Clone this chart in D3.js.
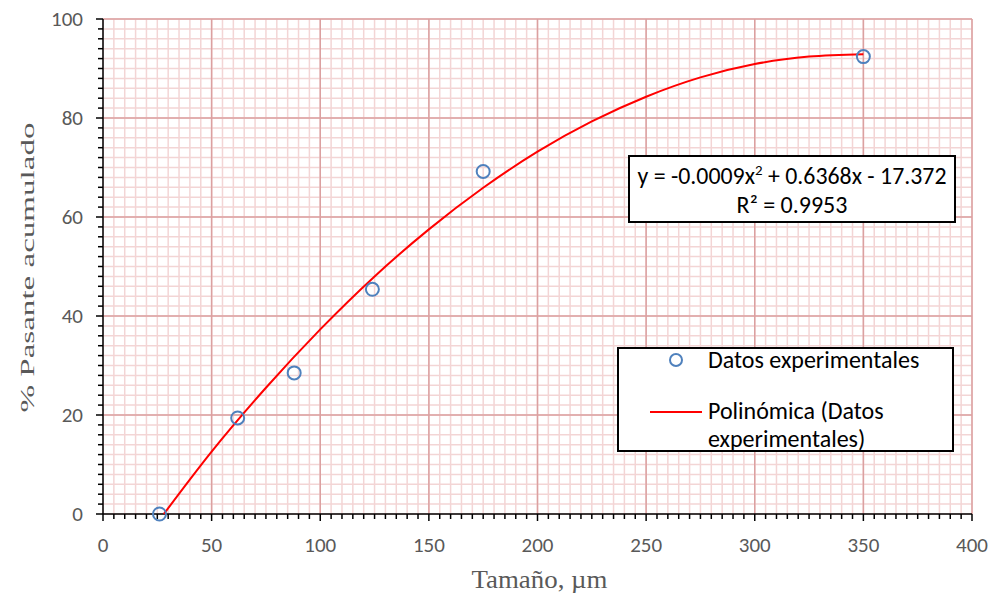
<!DOCTYPE html>
<html>
<head>
<meta charset="utf-8">
<script src="https://cdn.jsdelivr.net/npm/d3@7"></script>
<style>
  body { margin: 0; background: #fff; }
  svg { display: block; }
</style>
</head>
<body>
<svg id="chart" width="994" height="598"></svg>
<script>
// ── Datos ──
const sizes   = [26, 62, 88, 124, 175, 350];
const passing = [0, 19.4, 28.5, 45.4, 69.2, 92.4];

// curva de tendencia
const trendX = [28, 50, 75, 100, 125, 150, 175, 200, 225, 250, 275, 300, 325, 350];
const trendY = [0, 12.6, 25.5, 37.3, 48.0, 57.5, 65.9, 73.2, 79.3, 84.3, 88.2, 90.9, 92.4, 92.9];

const xTicks = [0, 50, 100, 150, 200, 250, 300, 350, 400];
const yTicks = [0, 20, 40, 60, 80, 100];

const eqLine1 = "y = -0.0009x";
const eqLine1b = " + 0.6368x - 17.372";
const eqLine2 = "R² = 0.9953";

const W = 994, H = 598;
const m = { left: 103, right: 22, top: 19, bottom: 84 };

const svg = d3.select("#chart");
const x = d3.scaleLinear().domain([0, 400]).range([m.left, W - m.right]);
const y = d3.scaleLinear().domain([0, 100]).range([H - m.bottom, m.top]);

const SANS = "Calibri, Carlito, Lato, 'Liberation Sans', sans-serif";
const SERIF = "'Times New Roman', 'Liberation Serif', serif";

// ── Rejilla menor ──
const g = svg.append("g");
g.append("g").selectAll("line")
  .data(d3.range(0, 401, 5)).join("line")
  .attr("x1", d => x(d)).attr("x2", d => x(d))
  .attr("y1", y(0)).attr("y2", y(100))
  .attr("stroke", "#f3d5d5").attr("stroke-width", 1.5);
g.append("g").selectAll("line")
  .data(d3.range(0, 101, 2)).join("line")
  .attr("x1", x(0)).attr("x2", x(400))
  .attr("y1", d => y(d)).attr("y2", d => y(d))
  .attr("stroke", "#f3d5d5").attr("stroke-width", 1.5);

// ── Rejilla mayor ──
g.append("g").selectAll("line")
  .data(xTicks.slice(1)).join("line")
  .attr("x1", d => x(d)).attr("x2", d => x(d))
  .attr("y1", y(0)).attr("y2", y(100))
  .attr("stroke", "#dba0a0").attr("stroke-width", 1.5);
g.append("g").selectAll("line")
  .data(yTicks.slice(1)).join("line")
  .attr("x1", x(0)).attr("x2", x(400))
  .attr("y1", d => y(d)).attr("y2", d => y(d))
  .attr("stroke", "#dba0a0").attr("stroke-width", 1.5);

// ── Ejes ──
const xAxis = svg.append("g").attr("transform", `translate(0,${y(0)})`);
xAxis.append("line").attr("x1", x(0)).attr("x2", x(400))
  .attr("stroke", "#000").attr("stroke-width", 1.5);
xAxis.selectAll("line.minor").data(d3.range(0, 401, 5)).join("line")
  .attr("class", "minor")
  .attr("x1", d => x(d)).attr("x2", d => x(d))
  .attr("y1", 0).attr("y2", d => d % 50 === 0 ? 7 : 5)
  .attr("stroke", "#000").attr("stroke-width", 1.5);
xAxis.selectAll("text").data(xTicks).join("text")
  .attr("x", d => x(d)).attr("y", 38)
  .attr("text-anchor", "middle")
  .attr("font-family", SANS).attr("font-size", 21).attr("fill", "#595959")
  .text(d => d);

const yAxis = svg.append("g").attr("transform", `translate(${x(0)},0)`);
yAxis.append("line").attr("y1", y(0)).attr("y2", y(100))
  .attr("stroke", "#000").attr("stroke-width", 1.5);
yAxis.selectAll("line.minor").data(d3.range(0, 101, 2)).join("line")
  .attr("class", "minor")
  .attr("y1", d => y(d)).attr("y2", d => y(d))
  .attr("x1", d => d % 20 === 0 ? -7 : -5).attr("x2", 0)
  .attr("stroke", "#000").attr("stroke-width", 1.5);
yAxis.selectAll("text").data(yTicks).join("text")
  .attr("x", -20).attr("y", d => y(d) + 7)
  .attr("text-anchor", "end")
  .attr("font-family", SANS).attr("font-size", 21).attr("fill", "#595959")
  .text(d => d);

// ── Títulos ──
svg.append("text")
  .attr("x", (x(0) + x(400)) / 2 + 2).attr("y", 588)
  .attr("text-anchor", "middle")
  .attr("font-family", SERIF).attr("font-size", 26).attr("fill", "#595959")
  .attr("textLength", 136).attr("lengthAdjust", "spacingAndGlyphs")
  .text("Tamaño, µm");
svg.append("text")
  .attr("transform", `translate(34,${(y(0) + y(100)) / 2 + 1}) rotate(-90)`)
  .attr("text-anchor", "middle")
  .attr("font-family", SERIF).attr("font-size", 18).attr("fill", "#595959")
  .attr("textLength", 290).attr("lengthAdjust", "spacingAndGlyphs")
  .text("% Pasante acumulado");

// ── Curva de tendencia ──
const line = d3.line()
  .x((d, i) => x(trendX[i]))
  .y(d => y(d))
  .curve(d3.curveMonotoneX);
svg.append("path")
  .attr("d", line(trendY))
  .attr("fill", "none").attr("stroke", "#ff0000").attr("stroke-width", 2);

// ── Puntos ──
svg.append("g").selectAll("circle")
  .data(sizes).join("circle")
  .attr("cx", d => x(d)).attr("cy", (d, i) => y(passing[i]))
  .attr("r", 6.5)
  .attr("fill", "none").attr("stroke", "#4f81bd").attr("stroke-width", 2);

// ── Cuadro de ecuación ──
const eq = svg.append("g");
eq.append("rect").attr("x", 629).attr("y", 156).attr("width", 326).attr("height", 66)
  .attr("fill", "#fff").attr("stroke", "#000").attr("stroke-width", 2);
const t1 = eq.append("text").attr("x", 792).attr("y", 184)
  .attr("text-anchor", "middle")
  .attr("font-family", SANS).attr("font-size", 24).attr("fill", "#000")
  .attr("textLength", 309).attr("lengthAdjust", "spacingAndGlyphs");
t1.append("tspan").text(eqLine1);
t1.append("tspan").attr("dy", -9).attr("font-size", 15).text("2");
t1.append("tspan").attr("dy", 9).text(eqLine1b);
eq.append("text").attr("x", 792).attr("y", 213)
  .attr("text-anchor", "middle")
  .attr("font-family", SANS).attr("font-size", 24).attr("fill", "#000")
  .text(eqLine2);

// ── Leyenda ──
const lg = svg.append("g");
lg.append("rect").attr("x", 618).attr("y", 348).attr("width", 335).attr("height", 103)
  .attr("fill", "#fff").attr("stroke", "#000").attr("stroke-width", 2);
lg.append("circle").attr("cx", 676).attr("cy", 360).attr("r", 6)
  .attr("fill", "none").attr("stroke", "#4f81bd").attr("stroke-width", 2);
lg.append("text").attr("x", 708).attr("y", 368)
  .attr("font-family", SANS).attr("font-size", 24).attr("fill", "#000")
  .text("Datos experimentales");
lg.append("line").attr("x1", 650).attr("x2", 702).attr("y1", 412).attr("y2", 412)
  .attr("stroke", "#ff0000").attr("stroke-width", 2);
lg.append("text").attr("x", 708).attr("y", 419)
  .attr("font-family", SANS).attr("font-size", 24).attr("fill", "#000")
  .text("Polinómica (Datos");
lg.append("text").attr("x", 708).attr("y", 447)
  .attr("font-family", SANS).attr("font-size", 24).attr("fill", "#000")
  .text("experimentales)");
</script>
</body>
</html>
